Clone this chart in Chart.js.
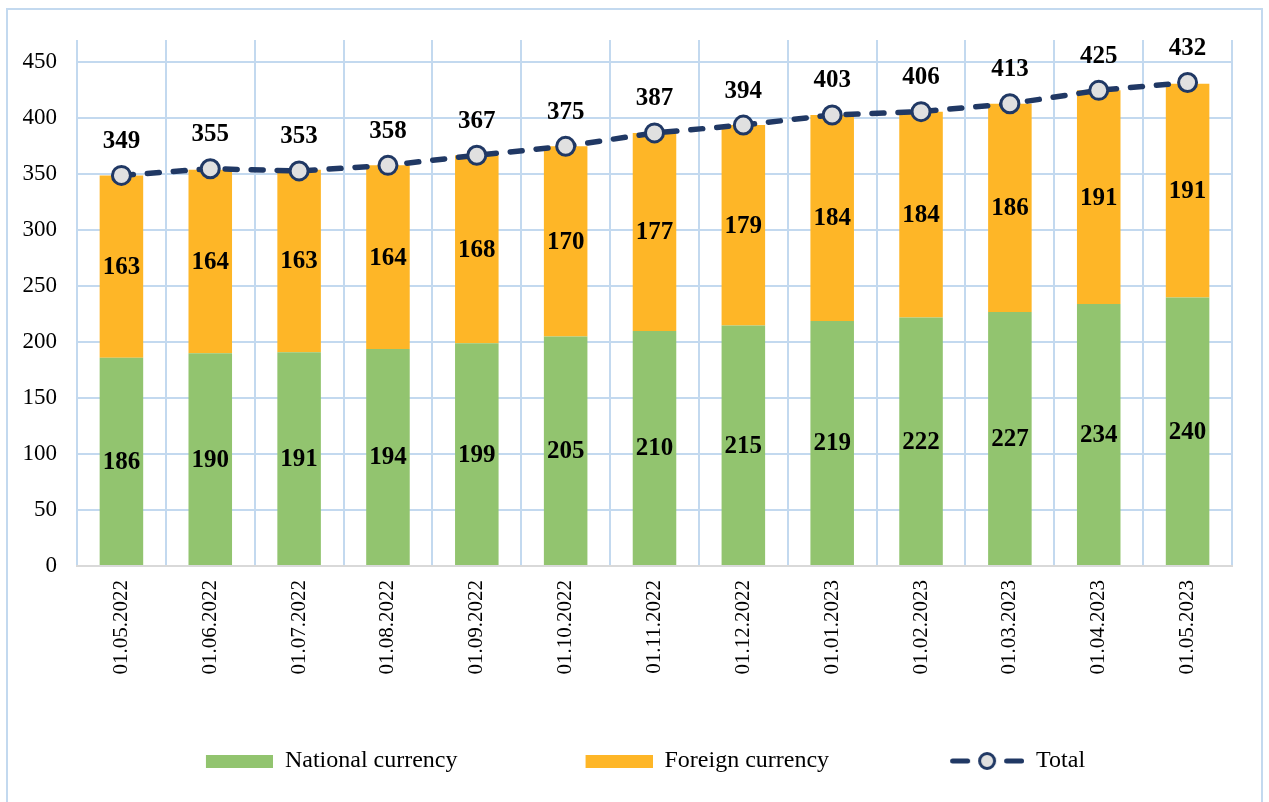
<!DOCTYPE html>
<html>
<head>
<meta charset="utf-8">
<script src="https://cdn.jsdelivr.net/npm/chart.js@4.4.1/dist/chart.umd.min.js"></script>
<style>
  html, body { margin: 0; padding: 0; background: #fff; }
  #wrap { position: relative; width: 1269px; height: 802px; }
</style>
</head>
<body>
<div id="wrap"><canvas id="c" width="1269" height="802"></canvas></div>
<script>
const categories = ['01.05.2022','01.06.2022','01.07.2022','01.08.2022','01.09.2022','01.10.2022','01.11.2022','01.12.2022','01.01.2023','01.02.2023','01.03.2023','01.04.2023','01.05.2023'];
const nationalCurrency = [186,190,191,194,199,205,210,215,219,222,227,234,240];
const foreignCurrency = [163,164,163,164,168,170,177,179,184,184,186,191,191];
const totalValues = [349,355,353,358,367,375,387,394,403,406,413,425,432];
const yTicks = [0,50,100,150,200,250,300,350,400,450];

const GREEN = '#92c46f';
const ORANGE = '#feb627';
const NAVY = '#203864';
const GRID = '#c3d9ef';
const FONT = '"Liberation Serif", "Times New Roman", serif';

const BOXW = 126;
function rectIcon(color) {
  const c = document.createElement('canvas');
  c.width = BOXW; c.height = 13;
  const x = c.getContext('2d');
  x.fillStyle = color;
  x.fillRect(BOXW - 67, 0, 67, 13);
  return c;
}
function lineIcon() {
  const c = document.createElement('canvas');
  c.width = BOXW; c.height = 24;
  const x = c.getContext('2d');
  const R = BOXW;
  x.strokeStyle = NAVY; x.lineWidth = 5; x.lineCap = 'round';
  x.beginPath(); x.moveTo(R - 71.5, 12); x.lineTo(R - 56.5, 12); x.stroke();
  x.beginPath(); x.moveTo(R - 17.5, 12); x.lineTo(R - 2.5, 12); x.stroke();
  x.beginPath(); x.arc(R - 37, 12, 7.5, 0, Math.PI * 2);
  x.fillStyle = '#e0e0e0'; x.fill();
  x.lineWidth = 3; x.stroke();
  return c;
}
const icons = [rectIcon(GREEN), rectIcon(ORANGE), lineIcon()];

const borderPlugin = {
  id: 'outerBorder',
  beforeDraw(chart) {
    const ctx = chart.ctx;
    ctx.save();
    ctx.fillStyle = '#fff';
    ctx.fillRect(0, 0, chart.width, chart.height);
    ctx.strokeStyle = '#c3d9ef';
    ctx.lineWidth = 2;
    ctx.strokeRect(7, 9, 1255, 800);
    ctx.restore();
  }
};

const labelPlugin = {
  id: 'valueLabels',
  afterDatasetsDraw(chart) {
    const ctx = chart.ctx;
    ctx.save();
    ctx.font = 'bold 25px ' + FONT;
    ctx.fillStyle = '#000';
    ctx.textAlign = 'center';
    ctx.textBaseline = 'middle';
    [0, 1].forEach(di => {
      const meta = chart.getDatasetMeta(di);
      meta.data.forEach((bar, i) => {
        const p = bar.getProps(['x', 'y', 'base'], true);
        ctx.fillText(String(chart.data.datasets[di].data[i]), p.x, (p.y + p.base) / 2 + 1);
      });
    });
    const lm = chart.getDatasetMeta(2);
    lm.data.forEach((pt, i) => {
      const p = pt.getProps(['x', 'y'], true);
      ctx.fillText(String(totalValues[i]), p.x, p.y - 34);
    });
    ctx.restore();
  }
};

new Chart(document.getElementById('c'), {
  data: {
    labels: categories,
    datasets: [
      { type: 'bar', label: 'National currency', data: nationalCurrency, backgroundColor: GREEN, stack: 's', barPercentage: 0.49, categoryPercentage: 1.0, order: 2 },
      { type: 'bar', label: 'Foreign currency', data: foreignCurrency, backgroundColor: ORANGE, stack: 's', barPercentage: 0.49, categoryPercentage: 1.0, order: 2 },
      { type: 'line', label: 'Total', data: totalValues, borderColor: NAVY, borderWidth: 5.5, borderDash: [12, 14], borderCapStyle: 'round',
        pointRadius: 9, pointBorderWidth: 3, pointBackgroundColor: '#e0e0e0', pointBorderColor: NAVY, fill: false, tension: 0, order: 1 }
    ]
  },
  options: {
    responsive: false,
    animation: false,
    events: [],
    layout: { padding: { top: 40, left: 0, right: 37, bottom: 19 } },
    scales: {
      x: {
        stacked: true,
        offset: true,
        grid: { color: GRID, lineWidth: 2, offset: true, drawTicks: false },
        border: { color: '#d9d9d9', width: 2 },
        ticks: { color: '#000', font: { family: FONT, size: 21 }, minRotation: 90, maxRotation: 90, padding: 14, autoSkip: false },
        afterFit(axis) { axis.height = 114; }
      },
      y: {
        stacked: true,
        min: 0, max: 470,
        afterBuildTicks(axis) { axis.ticks = yTicks.map(v => ({ value: v })); },
        grid: { color: GRID, lineWidth: 2, drawTicks: false },
        border: { display: false },
        ticks: { color: '#000', font: { family: FONT, size: 23 }, padding: 20 },
        afterFit(axis) { axis.width = 77; }
      }
    },
    plugins: {
      tooltip: { enabled: false },
      legend: {
        position: 'bottom',
        labels: {
          usePointStyle: true,
          pointStyleWidth: BOXW,
          padding: 69,
          color: '#000',
          font: { family: FONT, size: 24 },
          generateLabels(chart) {
            return chart.data.datasets.map((d, i) => ({
              text: d.label, pointStyle: icons[i], fillStyle: 'transparent', strokeStyle: 'transparent',
              fontColor: '#000', lineWidth: 0, datasetIndex: i, hidden: false
            }));
          }
        }
      }
    }
  },
  plugins: [borderPlugin, labelPlugin]
});
</script>
</body>
</html>
